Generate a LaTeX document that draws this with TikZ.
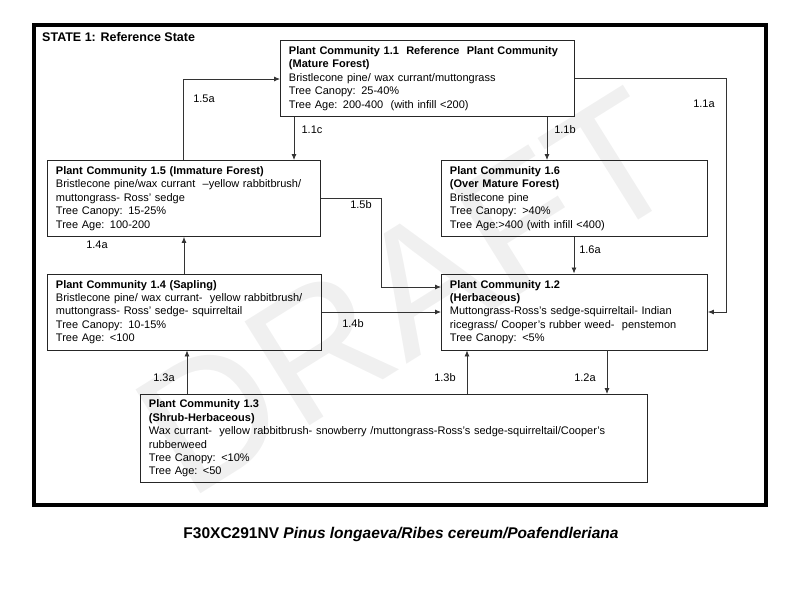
\documentclass[tikz,border=0pt]{standalone}
\usepackage{fontspec}
\setmainfont{Liberation Sans}
\usetikzlibrary{arrows.meta}
\begin{document}
\begin{tikzpicture}[x=1pt,y=-1pt,
  box/.style={draw=black!85, line width=0.9pt, align=left, inner xsep=8.5pt, inner ysep=0pt, anchor=north west, font=\fontsize{11}{13.4}\selectfont},
  arr/.style={draw=black!80, line width=0.8pt, -{Latex[length=6pt,width=5pt]}},
  lbl/.style={font=\fontsize{11}{13}\selectfont, inner sep=0pt}]
\useasboundingbox (0,0) rectangle (800,600);
% watermark
\node[rotate=32, text=black!6, font=\fontsize{178}{178}\selectfont, inner sep=0pt] (wm) at (408,292) {DRAFT};
% frame
\draw[line width=4pt] (33.5,24.5) rectangle (766,504.5);
\node[anchor=west, font=\fontsize{12.5}{13}\selectfont\bfseries, inner sep=0pt] (title) at (42,37) {STATE 1: Reference State};
% boxes
\node[box, text width=277pt, minimum height=76pt] (b11) at (280,40) {\textbf{Plant Community 1.1\ \ Reference\ \ Plant Community}\\\textbf{(Mature Forest)}\\Bristlecone pine/ wax currant/muttongrass\\Tree Canopy: 25-40\%\\Tree Age: 200-400\ \ (with infill <200)};
\node[box, text width=256pt, minimum height=76pt] (b15) at (47,160) {\textbf{Plant Community 1.5 (Immature Forest)}\\Bristlecone pine/wax currant\ \ –yellow rabbitbrush/\\muttongrass- Ross' sedge\\Tree Canopy: 15-25\%\\Tree Age: 100-200};
\node[box, text width=249pt, minimum height=76pt] (b16) at (441,160) {\textbf{Plant Community 1.6}\\\textbf{(Over Mature Forest)}\\Bristlecone pine\\Tree Canopy: >40\%\\Tree Age:>400 (with infill <400)};
\node[box, text width=257pt, minimum height=76pt] (b14) at (47,273.5) {\textbf{Plant Community 1.4 (Sapling)}\\Bristlecone pine/ wax currant-\ \ yellow rabbitbrush/\\muttongrass- Ross' sedge- squirreltail\\Tree Canopy: 10-15\%\\Tree Age: <100};
\node[box, text width=249pt, minimum height=76pt] (b12) at (441,273.5) {\textbf{Plant Community 1.2}\\\textbf{(Herbaceous)}\\Muttongrass-Ross's sedge-squirreltail- Indian\\ricegrass/ Cooper's rubber weed-\ \ penstemon\\Tree Canopy: <5\%};
\node[box, text width=490pt, minimum height=88pt] (b13) at (140,394) {\textbf{Plant Community 1.3}\\\textbf{(Shrub-Herbaceous)}\\Wax currant-\ \ yellow rabbitbrush- snowberry /muttongrass-Ross's sedge-squirreltail/Cooper's\\rubberweed\\Tree Canopy: <10\%\\Tree Age: <50};
% connectors
\draw[arr] (183,0 |- b15.north) |- (b11.west |- 0,79);
\draw[arr] (294,0 |- b11.south) -- (294,0 |- b15.north);
\draw[arr] (547,0 |- b11.south) -- (547,0 |- b16.north);
\coordinate (c11a) at (726,312);
\draw[arr] (b11.east |- 0,78) -| (c11a) -- (b12.east |- c11a);
\coordinate (c15b) at (381,287);
\draw[arr] (b15.east |- 0,198) -| (c15b) -- (b12.west |- c15b);
\draw[arr] (184,0 |- b14.north) -- (184,0 |- b15.south);
\draw[arr] (b14.east |- 0,312) -- (b12.west |- 0,312);
\draw[arr] (574,0 |- b16.south) -- (574,0 |- b12.north);
\draw[arr] (187,0 |- b13.north) -- (187,0 |- b14.south);
\draw[arr] (467,0 |- b13.north) -- (467,0 |- b12.south);
\draw[arr] (607,0 |- b12.south) -- (607,0 |- b13.north);
% labels
\node[lbl] (l15a) at (204,99) {1.5a};
\node[lbl] (l11c) at (312,130) {1.1c};
\node[lbl] (l11b) at (565,130) {1.1b};
\node[lbl] (l11a) at (704,104) {1.1a};
\node[lbl] (l15b) at (361,205) {1.5b};
\node[lbl] (l14a) at (97,245) {1.4a};
\node[lbl] (l14b) at (353,324) {1.4b};
\node[lbl] (l16a) at (590,250) {1.6a};
\node[lbl] (l13a) at (164,378) {1.3a};
\node[lbl] (l13b) at (445,378) {1.3b};
\node[lbl] (l12a) at (585,378) {1.2a};
% caption
\node[font=\fontsize{15.5}{16}\selectfont\bfseries, inner sep=0pt] (cap) at (401,534) {F30XC291NV \textit{Pinus longaeva/Ribes cereum/Poafendleriana}};
\end{tikzpicture}
\end{document}
